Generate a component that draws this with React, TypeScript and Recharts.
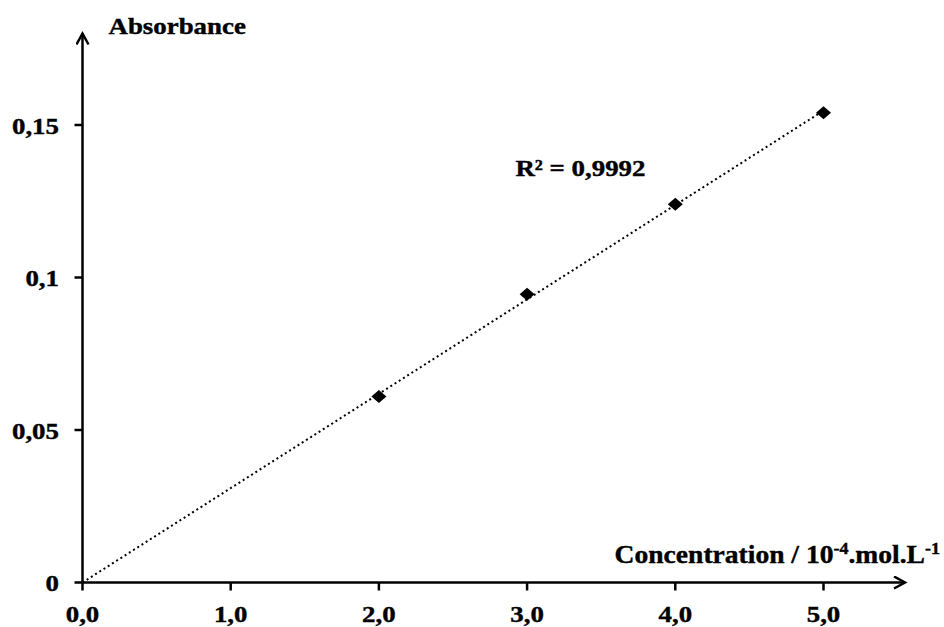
import { ScatterChart, Scatter, XAxis, YAxis, ReferenceDot } from "recharts";

// measured points
const concentrations = [2, 3, 4, 5];
const absorbances = [0.061, 0.0945, 0.124, 0.154];

// linear trendline forced through origin
const trendX = [0, 5];
const trendY = [0, 0.1547];

const xTicks = [0, 1, 2, 3, 4, 5];
const yTicks = [0, 0.05, 0.1, 0.15];
const yTickLabels = ["0", "0,05", "0,1", "0,15"];

const r2Text = "R² = 0,9992";
const r2Pos = { x: 3.36, y: 0.1362 };

const points = concentrations.map((x, i) => ({ x, y: absorbances[i] }));
const trend = trendX.map((x, i) => ({ x, y: trendY[i] }));

const FONT = '"Liberation Serif", "Times New Roman", serif';
const STRETCH = 1.12;
const textStyle = { stroke: "#000", strokeWidth: 0.4 };

function XTick({ x, y, payload }: any) {
  return (
    <g transform={`translate(${x},${y}) scale(${STRETCH},1)`}>
      <text x={0} y={0} dy="0.71em" textAnchor="middle" fontFamily={FONT} fontWeight="bold" fontSize={24} fill="#000" style={textStyle}>
        {payload.value.toFixed(1).replace(".", ",")}
      </text>
    </g>
  );
}

function YTick({ x, y, payload }: any) {
  const idx = yTicks.indexOf(payload.value);
  return (
    <g transform={`translate(${x},${y}) scale(${STRETCH},1)`}>
      <text x={0} y={0} dy="0.355em" textAnchor="end" fontFamily={FONT} fontWeight="bold" fontSize={24} fill="#000" style={textStyle}>
        {idx >= 0 ? yTickLabels[idx] : payload.value}
      </text>
    </g>
  );
}

function Diamond({ cx, cy }: any) {
  return <path d={`M${cx},${cy - 6.5} L${cx + 7.5},${cy} L${cx},${cy + 6.5} L${cx - 7.5},${cy} Z`} fill="#000" />;
}

function YLabel({ viewBox }: any) {
  const { x, y, width } = viewBox;
  return (
    <g transform={`translate(${x + width + 26},${y + 0.5}) scale(${STRETCH},1)`}>
      <text x={0} y={0} textAnchor="start" fontFamily={FONT} fontWeight="bold" fontSize={24} fill="#000" style={textStyle}>
        Absorbance
      </text>
    </g>
  );
}

function XLabel({ viewBox }: any) {
  const { x, y, width } = viewBox;
  return (
    <g transform={`translate(${x + width + 35},${y - 20}) scale(1.06,1)`}>
      <text x={0} y={0} textAnchor="end" fontFamily={FONT} fontWeight="bold" fontSize={26} fill="#000" style={textStyle}>
        Concentration / 10
        <tspan fontSize={17} dy={-9}>-4</tspan>
        <tspan fontSize={26} dy={9}>.mol.L</tspan>
        <tspan fontSize={17} dy={-9}>-1</tspan>
      </text>
    </g>
  );
}

function R2Label({ viewBox }: any) {
  const { x, y } = viewBox;
  return (
    <g transform={`translate(${x},${y}) scale(${STRETCH},1)`}>
      <text x={0} y={0} dy="0.355em" textAnchor="middle" fontFamily={FONT} fontWeight="bold" fontSize={24} fill="#000" style={textStyle}>
        {r2Text}
      </text>
    </g>
  );
}

export default function App() {
  const axisStroke = { stroke: "#000", strokeWidth: 2.5 };
  return (
    <div style={{ position: "fixed", left: 0, top: 0, width: 944, height: 627, background: "#fff" }}>
      <svg width={0} height={0} style={{ position: "absolute" }}>
        <defs>
          <marker
            id="arrow"
            markerUnits="userSpaceOnUse"
            markerWidth={16}
            markerHeight={16}
            refX={12}
            refY={7}
            orient="auto-start-reverse"
          >
            <path d="M1,1 L12,7 L1,13" fill="none" stroke="#000" strokeWidth={2.5} />
          </marker>
        </defs>
      </svg>
      <ScatterChart width={944} height={627} margin={{ top: 33.5, right: 39, bottom: 0, left: 0 }}>
        <XAxis
          type="number"
          dataKey="x"
          domain={[0, 5.55]}
          ticks={xTicks}
          interval={0}
          height={44.5}
          tickSize={8}
          tickMargin={14}
          allowDataOverflow
          axisLine={{ ...axisStroke, markerEnd: "url(#arrow)" }}
          tickLine={axisStroke}
          tick={<XTick />}
          label={<XLabel />}
        />
        <YAxis
          type="number"
          dataKey="y"
          domain={[0, 0.18]}
          ticks={yTicks}
          interval={0}
          width={82.5}
          tickSize={8}
          tickMargin={15.5}
          allowDataOverflow
          axisLine={{ ...axisStroke, markerStart: "url(#arrow)" }}
          tickLine={axisStroke}
          tick={<YTick />}
          label={<YLabel />}
        />
        <Scatter
          data={trend}
          line={{ stroke: "#000", strokeWidth: 2, strokeDasharray: "2 3" }}
          shape={() => <g />}
          isAnimationActive={false}
        />
        <Scatter data={points} shape={<Diamond />} isAnimationActive={false} />
        <ReferenceDot x={r2Pos.x} y={r2Pos.y} r={0} stroke="none" fill="none" label={<R2Label />} />
      </ScatterChart>
    </div>
  );
}
